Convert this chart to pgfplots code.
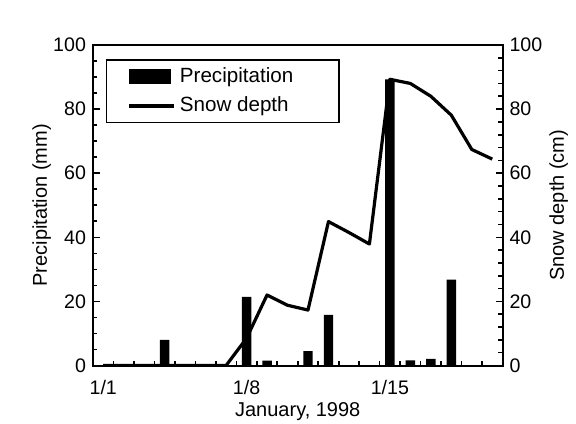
\documentclass[border=0pt]{standalone}
\usepackage{fontspec}
\setmainfont{Liberation Sans}
\usepackage{pgfplots}
\pgfplotsset{compat=1.18}
\begin{document}
\begin{tikzpicture}
\path[use as bounding box] (-46.5pt,-28.75pt) rectangle (241.5pt,182.75pt);
\begin{axis}[
  scale only axis, width=204.75pt, height=160.25pt,
  xmin=0.5, xmax=20.5, ymin=0, ymax=100,
  axis line style={line width=1pt},
  xtick={1,8,15}, xticklabels={1/1,1/8,1/15},
  major x tick style={draw=none},
  minor xtick={1.5,2.5,...,19.5},
  xtick pos=bottom, ytick pos=left,
  ytick={0,20,...,100}, minor y tick num=3,
  tick align=inside,
  major tick length=3.5pt, minor tick length=2.2pt,
  tick style={black, line width=0.8pt},
  /pgf/number format/assume math mode=true,
  tick label style={font=\fontsize{9.8}{11}\selectfont},
  xticklabel style={yshift=-4pt},
  label style={font=\fontsize{10}{12}\selectfont},
  xlabel={January, 1998},
  ylabel={Precipitation (mm)},
  every axis x label/.style={at={(axis description cs:0.5,-0.114)}, anchor=north, inner sep=0pt},
  every axis y label/.style={at={(axis description cs:-0.125,0.5)}, anchor=center, rotate=90},
  legend style={at={(0.032,0.955)}, anchor=north west, draw=black, line width=0.6pt,
    font=\fontsize{10.3}{12}\selectfont, inner xsep=10.5pt, inner ysep=2pt, row sep=1.5pt},
  legend cell align=left,
]
\addplot[ybar, bar width=0.46, fill=black, draw=none,
  legend image code/.code={\fill[black] (0pt,-3.75pt) rectangle (21pt,3.75pt);}]
  coordinates {(4,8) (8,21.4) (9,1.5) (11,4.5) (12,15.8) (15,89.3) (16,1.6) (17,2.1) (18,26.8)};
\addlegendentry{\makebox[67pt][l]{Precipitation}}
\addlegendimage{legend image code/.code={\draw[black, line width=1.6pt] (0pt,0pt) -- (22.5pt,0pt);}}
\addlegendentry{Snow depth}
\end{axis}
\begin{axis}[
  scale only axis, width=204.75pt, height=160.25pt,
  xmin=0.5, xmax=20.5, ymin=0, ymax=100,
  axis line style={line width=1pt},
  hide x axis,
  ytick pos=right, yticklabel pos=right,
  ytick={0,20,...,100}, minor y tick num=4,
  tick align=inside,
  major tick length=3.5pt, minor tick length=2.5pt,
  tick style={black, line width=0.8pt},
  /pgf/number format/assume math mode=true,
  tick label style={font=\fontsize{9.8}{11}\selectfont},
  label style={font=\fontsize{10}{12}\selectfont},
  ylabel={Snow depth (cm)},
  every axis y label/.style={at={(axis description cs:1.137,0.5)}, anchor=center, rotate=90},
]
\addplot[black, line width=1.6pt, line join=round] coordinates {
  (1,0) (2,0) (3,0) (4,0) (5,0) (6,0) (7,0) (8,8.5) (9,22.0) (10,18.8) (11,17.3)
  (12,44.9) (13,41.5) (14,37.9) (15,89.3) (16,88.0) (17,84.0) (18,78.1) (19,67.4) (20,64.4)};
\end{axis}
\end{tikzpicture}
\end{document}
